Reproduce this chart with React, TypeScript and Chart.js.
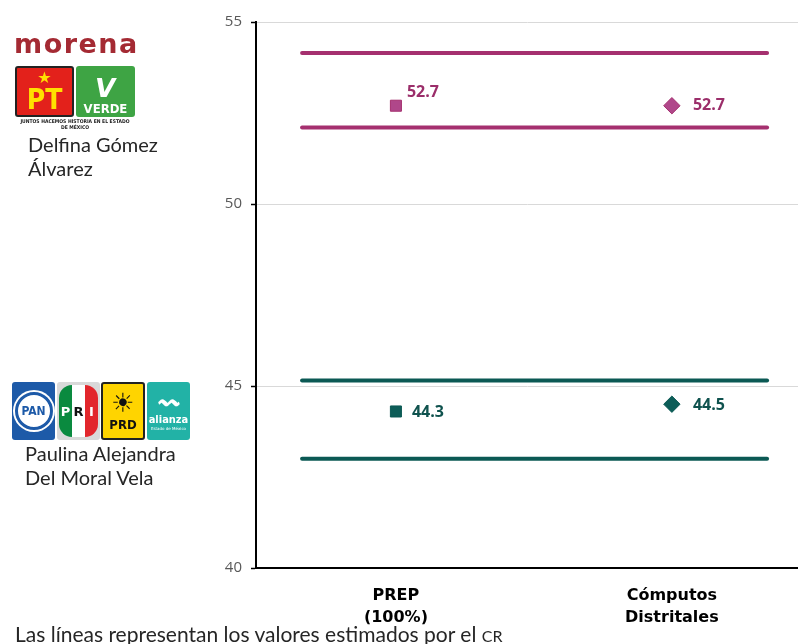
import React, { useEffect, useRef } from "react";
import { Chart, registerables } from "chart.js";

Chart.register(...registerables);

// ---- data ----
const categories: string[][] = [["PREP", "(100%)"], ["Cómputos", "Distritales"]];
const morenaValues = [52.7, 52.7];
const vaValues = [44.3, 44.5];
const morenaBand = [52.1, 54.15]; // estimated lower / upper
const vaBand = [43.0, 45.15];
const bandSpan = [-0.34, 1.345]; // x extent of the estimate lines (category units)
const yTicks = [40, 45, 50, 55];
const xRange = [-0.507, 1.457];

const MAGENTA_LINE = "#a5306f";
const MAGENTA_PT = "#b0478a";
const MAGENTA_TXT = "#9b2e6a";
const TEAL_LINE = "#0b5954";
const TEAL_PT = "#0d5d58";
const TEAL_TXT = "#0f524e";

const valueLabelPlugin = {
  id: "valueLabels",
  afterDatasetsDraw(chart: any) {
    const ctx = chart.ctx;
    chart.data.datasets.forEach((ds: any, i: number) => {
      if (!ds.labelOffsets) return;
      const meta = chart.getDatasetMeta(i);
      meta.data.forEach((el: any, j: number) => {
        const off = ds.labelOffsets[j];
        ctx.save();
        ctx.font = 'bold 16px "Open Sans"';
        ctx.fillStyle = ds.labelColor;
        ctx.textAlign = "left";
        ctx.textBaseline = "middle";
        ctx.fillText(ds.data[j].y.toFixed(1), el.x + off[0], el.y + off[1]);
        ctx.restore();
      });
    });
  },
};

function bandDataset(y: number, color: string) {
  return {
    type: "line",
    data: bandSpan.map((x) => ({ x, y })),
    borderColor: color,
    borderWidth: 4,
    borderCapStyle: "round",
    pointRadius: 0,
    fill: false,
  };
}

function ChartView() {
  const ref = useRef<HTMLCanvasElement | null>(null);
  useEffect(() => {
    if (!ref.current) return;
    const chart = new Chart(ref.current, {
      type: "line",
      data: {
        datasets: [
          bandDataset(morenaBand[1], MAGENTA_LINE),
          bandDataset(morenaBand[0], MAGENTA_LINE),
          bandDataset(vaBand[1], TEAL_LINE),
          bandDataset(vaBand[0], TEAL_LINE),
          {
            data: morenaValues.map((y, i) => ({ x: i, y })),
            showLine: false,
            pointStyle: ["rect", "rectRot"],
            pointRadius: [7.8, 8.2],
            backgroundColor: MAGENTA_PT,
            borderColor: MAGENTA_LINE,
            borderWidth: 1,
            labelOffsets: [[11, -13], [21, 0]],
            labelColor: MAGENTA_TXT,
          } as any,
          {
            data: vaValues.map((y, i) => ({ x: i, y })),
            showLine: false,
            pointStyle: ["rect", "rectRot"],
            pointRadius: [7.8, 8.2],
            backgroundColor: TEAL_PT,
            borderColor: TEAL_LINE,
            borderWidth: 1,
            labelOffsets: [[16, 1], [21, 1]],
            labelColor: TEAL_TXT,
          } as any,
        ] as any,
      },
      options: {
        animation: false,
        responsive: false,
        devicePixelRatio: 1,
        layout: { autoPadding: false, padding: { top: 22, right: 0, bottom: 0, left: 0 } },
        plugins: { legend: { display: false }, tooltip: { enabled: false } },
        scales: {
          x: {
            type: "linear",
            min: xRange[0],
            max: xRange[1],
            grid: { display: false, drawTicks: false },
            border: { display: true, color: "#000", width: 2 },
            afterBuildTicks: (s: any) => {
              s.ticks = categories.map((_, i) => ({ value: i }));
            },
            afterFit: (s: any) => {
              s.height = 76;
            },
            ticks: {
              autoSkip: false,
              maxRotation: 0,
              padding: 17,
              color: "#000",
              font: { family: "DejaVu Sans", weight: "bold", size: 16, lineHeight: 1.38 },
              callback: (v: any) => categories[Math.round(v)] ?? "",
            },
          },
          y: {
            min: 40,
            max: 55,
            afterBuildTicks: (s: any) => {
              s.ticks = yTicks.map((v) => ({ value: v }));
            },
            afterFit: (s: any) => {
              s.width = 256;
            },
            grid: { color: "#d9d9d9", lineWidth: 1, tickColor: "#000", tickLength: 5, tickWidth: 1.5 },
            border: { color: "#000", width: 2 },
            ticks: { padding: 9, color: "#595959", font: { family: "Open Sans", size: 15 } },
          },
        },
      } as any,
      plugins: [valueLabelPlugin],
    });
    return () => chart.destroy();
  }, []);
  return (
    <canvas
      ref={ref}
      width={798}
      height={644}
      style={{ position: "absolute", left: 0, top: 0, width: 798, height: 644 }}
    />
  );
}

const nameStyle: React.CSSProperties = {
  position: "absolute",
  fontFamily: "Lato, 'DejaVu Sans', sans-serif",
  fontSize: 20,
  lineHeight: "24px",
  color: "#262626",
  whiteSpace: "nowrap",
};

function box(left: number, top: number, w: number, h: number, extra: React.CSSProperties): React.CSSProperties {
  return {
    position: "absolute",
    left,
    top,
    width: w,
    height: h,
    boxSizing: "border-box",
    borderRadius: 3,
    overflow: "hidden",
    display: "flex",
    flexDirection: "column",
    alignItems: "center",
    justifyContent: "center",
    fontFamily: "'DejaVu Sans', sans-serif",
    fontWeight: "bold",
    ...extra,
  };
}

function Logos() {
  return (
    <>
      <div
        style={{
          position: "absolute",
          left: 14,
          top: 29,
          fontFamily: "'DejaVu Sans', sans-serif",
          fontWeight: "bold",
          fontSize: 27,
          letterSpacing: 1.5,
          color: "#a42a33",
          lineHeight: "30px",
        }}
      >
        morena
      </div>
      <div style={box(15, 66, 59, 51, { background: "#e3211b", border: "2px solid #222", color: "#ffe000" })}>
        <div style={{ fontSize: 16, lineHeight: "16px" }}>★</div>
        <div style={{ fontSize: 28, lineHeight: "28px", fontFamily: "'DejaVu Sans Condensed', 'DejaVu Sans'" }}>PT</div>
      </div>
      <div style={box(76, 66, 59, 51, { background: "#3ea444", color: "#fff", justifyContent: "flex-end" })}>
        <div style={{ fontSize: 26, lineHeight: "24px", color: "#fff", transform: "skewX(-10deg)" }}>V</div>
        <div style={{ fontSize: 13, lineHeight: "17px", fontFamily: "'DejaVu Sans Condensed', 'DejaVu Sans'" }}>VERDE</div>
      </div>
      <div
        style={{
          position: "absolute",
          left: 14,
          top: 118,
          width: 122,
          textAlign: "center",
          fontFamily: "'DejaVu Sans Condensed', 'DejaVu Sans', sans-serif",
          fontWeight: "bold",
          fontSize: 5,
          lineHeight: "6px",
          color: "#222",
        }}
      >
        JUNTOS HACEMOS HISTORIA EN EL ESTADO
        <br />
        DE MÉXICO
      </div>
      <div style={{ ...nameStyle, left: 28, top: 132 }}>
        Delfina Gómez
        <br />
        Álvarez
      </div>

      <div style={box(12, 382, 43, 58, { background: "#1d5aa8" })}>
        <div
          style={{
            width: 38,
            height: 38,
            borderRadius: "50%",
            background: "#fff",
            border: "3px solid #1d5aa8",
            boxShadow: "0 0 0 2px #fff",
            display: "flex",
            alignItems: "center",
            justifyContent: "center",
            color: "#1d5aa8",
            fontSize: 12,
            fontFamily: "'DejaVu Sans Condensed', 'DejaVu Sans'",
            boxSizing: "border-box",
          }}
        >
          PAN
        </div>
      </div>
      <div style={box(57, 382, 43, 58, { background: "#d9d9d9", flexDirection: "row", padding: "3px 2px" })}>
        <div style={{ flex: 1, height: "100%", background: "#0a8a3f", borderRadius: "14px 0 0 14px", display: "flex", alignItems: "center", justifyContent: "center", color: "#fff", fontSize: 13 }}>P</div>
        <div style={{ flex: 1, height: "100%", background: "#fff", display: "flex", alignItems: "center", justifyContent: "center", color: "#111", fontSize: 13 }}>R</div>
        <div style={{ flex: 1, height: "100%", background: "#e2262c", borderRadius: "0 14px 14px 0", display: "flex", alignItems: "center", justifyContent: "center", color: "#fff", fontSize: 13 }}>I</div>
      </div>
      <div style={box(101, 382, 44, 58, { background: "#ffd400", border: "2px solid #222", color: "#111" })}>
        <div style={{ fontSize: 26, lineHeight: "28px" }}>☀</div>
        <div style={{ fontSize: 13, lineHeight: "16px", fontFamily: "'DejaVu Sans Condensed', 'DejaVu Sans'" }}>PRD</div>
      </div>
      <div style={box(147, 382, 43, 58, { background: "#22b2a6", color: "#fff" })}>
        <div style={{ fontSize: 20, lineHeight: "22px", fontWeight: "bold" }}>〰</div>
        <div style={{ fontSize: 11, lineHeight: "13px", fontFamily: "'DejaVu Sans Condensed', 'DejaVu Sans'" }}>alianza</div>
        <div style={{ fontSize: 4, lineHeight: "6px", fontWeight: "normal" }}>Estado de México</div>
      </div>
      <div style={{ ...nameStyle, left: 25, top: 441 }}>
        Paulina Alejandra
        <br />
        Del Moral Vela
      </div>

      <div
        style={{
          position: "absolute",
          left: 15,
          top: 622,
          fontFamily: "Lato, 'DejaVu Sans', sans-serif",
          fontSize: 21,
          lineHeight: "24px",
          color: "#262626",
          whiteSpace: "nowrap",
          letterSpacing: 0,
        }}
      >
        Las líneas representan los valores estimados por el <span style={{ fontSize: 16 }}>CR</span>
      </div>
    </>
  );
}

export default function App() {
  return (
    <div style={{ position: "absolute", left: 0, top: 0, width: 798, height: 644, overflow: "hidden", background: "#fff" }}>
      <ChartView />
      <Logos />
    </div>
  );
}
